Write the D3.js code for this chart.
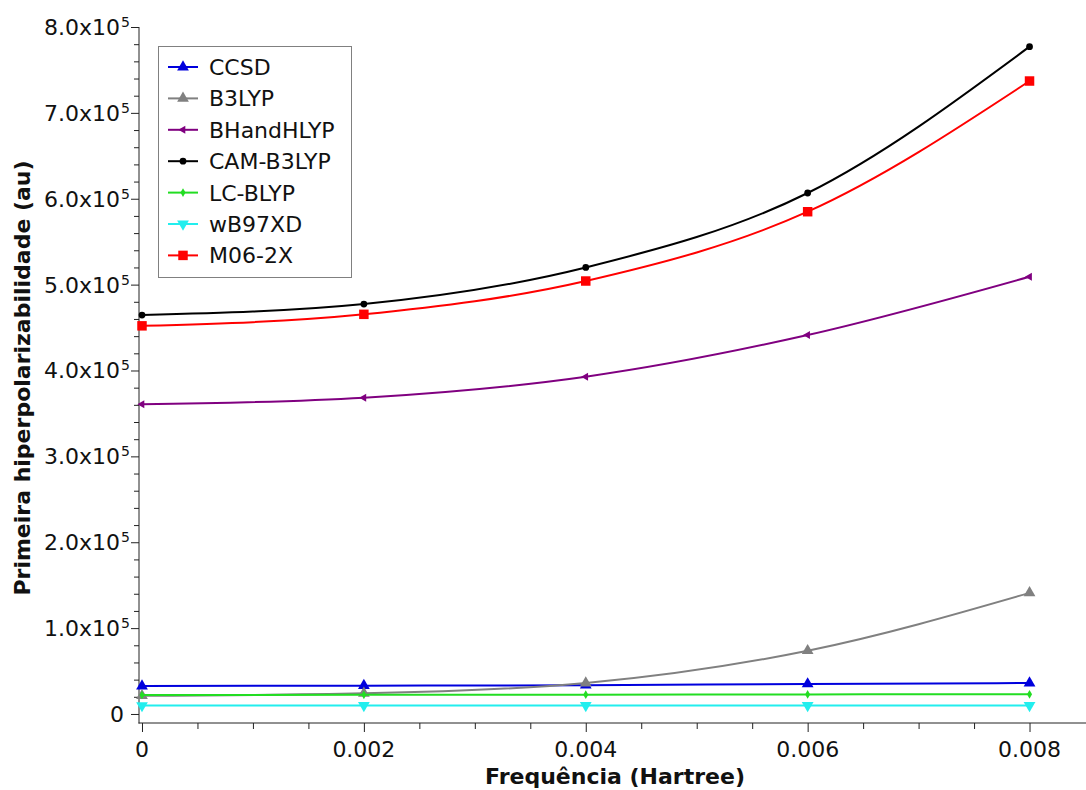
<!DOCTYPE html>
<html>
  <head>
    <meta charset="UTF-8">
    <title>Primeira hiperpolarizabilidade</title>
    <style>
      body { margin: 0; background: #fff; }
      text { font-family: 'DejaVu Sans', sans-serif; }
    </style>
  </head>
  <body>
    <div id='chart'></div>
    <script src='https://d3js.org/d3.v7.min.js'></script>
    <script>

      // frequencies (Hartree)
      const freqs = [0, 0.002, 0.004, 0.006, 0.008];

      // first hyperpolarizability (au)
      const ccsd = [32600, 33000, 33500, 35000, 36000];
      const b3lyp = [21300, 24000, 36000, 73700, 141000];
      const bhandhlyp = [360600, 368300, 392800, 441300, 509200];
      const camB3lyp = [464600, 477400, 520000, 606700, 777100];
      const lcBlyp = [22100, 22300, 22500, 22800, 22900];
      const wb97xd = [9800, 10000, 10000, 10000, 10000];
      const m062x = [452000, 465400, 504200, 584900, 737100];

      const seriesNames = ['CCSD', 'B3LYP', 'BHandHLYP', 'CAM-B3LYP', 'LC-BLYP', 'wB97XD', 'M06-2X'];
      const seriesValues = [ccsd, b3lyp, bhandhlyp, camB3lyp, lcBlyp, wb97xd, m062x];

      const xTicks = [0, 0.002, 0.004, 0.006, 0.008];
      const xTickLabels = ['0', '0.002', '0.004', '0.006', '0.008'];
      const yTicks = [0, 100000, 200000, 300000, 400000, 500000, 600000, 700000, 800000];
      const yTickLabels = ['0', '1.0', '2.0', '3.0', '4.0', '5.0', '6.0', '7.0', '8.0'];

      const width = 1086;
      const height = 790;

      const styles = {
        'CCSD': { color: '#0000dd', symbol: d3.symbolTriangle, size: 60, rotate: 0 },
        'B3LYP': { color: '#808080', symbol: d3.symbolTriangle, size: 60, rotate: 0 },
        'BHandHLYP': { color: '#800080', symbol: d3.symbolTriangle, size: 28, rotate: -90 },
        'CAM-B3LYP': { color: '#000000', symbol: d3.symbolCircle, size: 36, rotate: 0 },
        'LC-BLYP': { color: '#22dd22', symbol: d3.symbolDiamond, size: 22, rotate: 0 },
        'wB97XD': { color: '#22eeee', symbol: d3.symbolTriangle, size: 60, rotate: 180 },
        'M06-2X': { color: '#ff0000', symbol: d3.symbolSquare, size: 90, rotate: 0 }
      };

      const svg = d3.select('#chart')
        .append('svg')
        .attr('width', width)
        .attr('height', height);

      const x = d3.scaleLinear()
        .domain([-0.000027, 0.0085])
        .range([139, 1085]);

      const y = d3.scaleLinear()
        .domain([-10500, 800000])
        .range([723, 27]);

      // y axis
      const yAxis = svg.append('g')
        .attr('transform', 'translate(139,0)');

      yAxis.call(d3.axisLeft(y)
        .tickValues(d3.range(0, 800001, 20000))
        .tickSize(5)
        .tickFormat(''))
        .select('.domain').remove();

      yAxis.selectAll('.tick')
        .filter((d) => d % 100000 === 0)
        .select('line')
        .attr('x2', -8);

      yAxis.selectAll('line').attr('stroke', '#222');

      yAxis.append('line')
        .attr('y1', y(800000))
        .attr('y2', 723.5)
        .attr('stroke', '#222');

      const yLabels = yAxis.selectAll('.ylab')
        .data(yTicks)
        .enter().append('text')
        .attr('class', 'ylab')
        .attr('x', (d) => d === 0 ? -15 : -21)
        .attr('y', (d) => y(d) + 8)
        .attr('text-anchor', 'end')
        .attr('font-size', 22)
        .attr('fill', '#111');

      yLabels.each(function (d, i) {
        const t = d3.select(this);
        if (d === 0) {
          t.text('0');
          return;
        }
        t.text(yTickLabels[i] + 'x10');
        t.append('tspan')
          .attr('dy', -8)
          .attr('font-size', 14)
          .text('5')
          .attr('dx', 1);
      });

      // trick: superscript pushes the anchor, so shift labels back by its width
      yLabels.filter((d) => d !== 0).attr('x', -9);

      // x axis
      const xAxis = svg.append('g')
        .attr('transform', 'translate(0,723)');

      xAxis.call(d3.axisBottom(x)
        .tickValues(d3.range(0, 17).map((i) => i * 0.0005))
        .tickSize(6)
        .tickFormat(''))
        .select('.domain').remove();

      xAxis.selectAll('.tick')
        .filter((d) => xTicks.some((v) => Math.abs(v - d) < 1e-9))
        .select('line')
        .attr('y2', 9);

      xAxis.selectAll('line').attr('stroke', '#222');

      xAxis.append('line')
        .attr('x1', 138.5)
        .attr('x2', 1086)
        .attr('stroke', '#222');

      xAxis.selectAll('.xlab')
        .data(xTicks)
        .enter().append('text')
        .attr('class', 'xlab')
        .attr('x', (d) => x(d))
        .attr('y', 34)
        .attr('text-anchor', 'middle')
        .attr('font-size', 22)
        .attr('fill', '#111')
        .text((d, i) => xTickLabels[i]);

      // axis titles
      svg.append('text')
        .attr('x', 615)
        .attr('y', 784)
        .attr('text-anchor', 'middle')
        .attr('font-size', 22)
        .attr('font-weight', 'bold')
        .attr('fill', '#111')
        .text('Frequência (Hartree)');

      svg.append('text')
        .attr('transform', 'translate(30,378) rotate(-90)')
        .attr('text-anchor', 'middle')
        .attr('font-size', 22)
        .attr('font-weight', 'bold')
        .attr('fill', '#111')
        .text('Primeira hiperpolarizabilidade (au)');

      // series
      const line = d3.line()
        .x((d) => x(d[0]))
        .y((d) => y(d[1]))
        .curve(d3.curveMonotoneX);

      const symbolPath = (name) => d3.symbol()
        .type(styles[name].symbol)
        .size(styles[name].size)();

      seriesNames.forEach((name, si) => {
        const st = styles[name];
        const pts = freqs.map((f, i) => [f, seriesValues[si][i]]);

        svg.append('path')
          .datum(pts)
          .attr('fill', 'none')
          .attr('stroke', st.color)
          .attr('stroke-width', 2)
          .attr('d', line);

        svg.append('g')
          .selectAll('path')
          .data(pts)
          .enter().append('path')
          .attr('d', symbolPath(name))
          .attr('fill', st.color)
          .attr('transform', (d) => `translate(${x(d[0])},${y(d[1])}) rotate(${st.rotate})`);
      });

      // legend
      const legend = svg.append('g')
        .attr('transform', 'translate(158,46)');

      legend.append('rect')
        .attr('x', 0.5)
        .attr('y', 0.5)
        .attr('width', 193)
        .attr('height', 231)
        .attr('fill', '#fff')
        .attr('stroke', '#808080');

      const rows = legend.selectAll('.row')
        .data(seriesNames)
        .enter().append('g')
        .attr('class', 'row')
        .attr('transform', (d, i) => `translate(0,${21 + i * 31.4})`);

      rows.append('line')
        .attr('x1', 10)
        .attr('x2', 40)
        .attr('stroke', (d) => styles[d].color)
        .attr('stroke-width', 2);

      rows.append('path')
        .attr('d', (d) => symbolPath(d))
        .attr('fill', (d) => styles[d].color)
        .attr('transform', (d) => `translate(25,0) rotate(${styles[d].rotate})`);

      rows.append('text')
        .attr('x', 51)
        .attr('y', 8)
        .attr('font-size', 22)
        .attr('fill', '#111')
        .text((d) => d);

    </script>
  </body>
</html>
